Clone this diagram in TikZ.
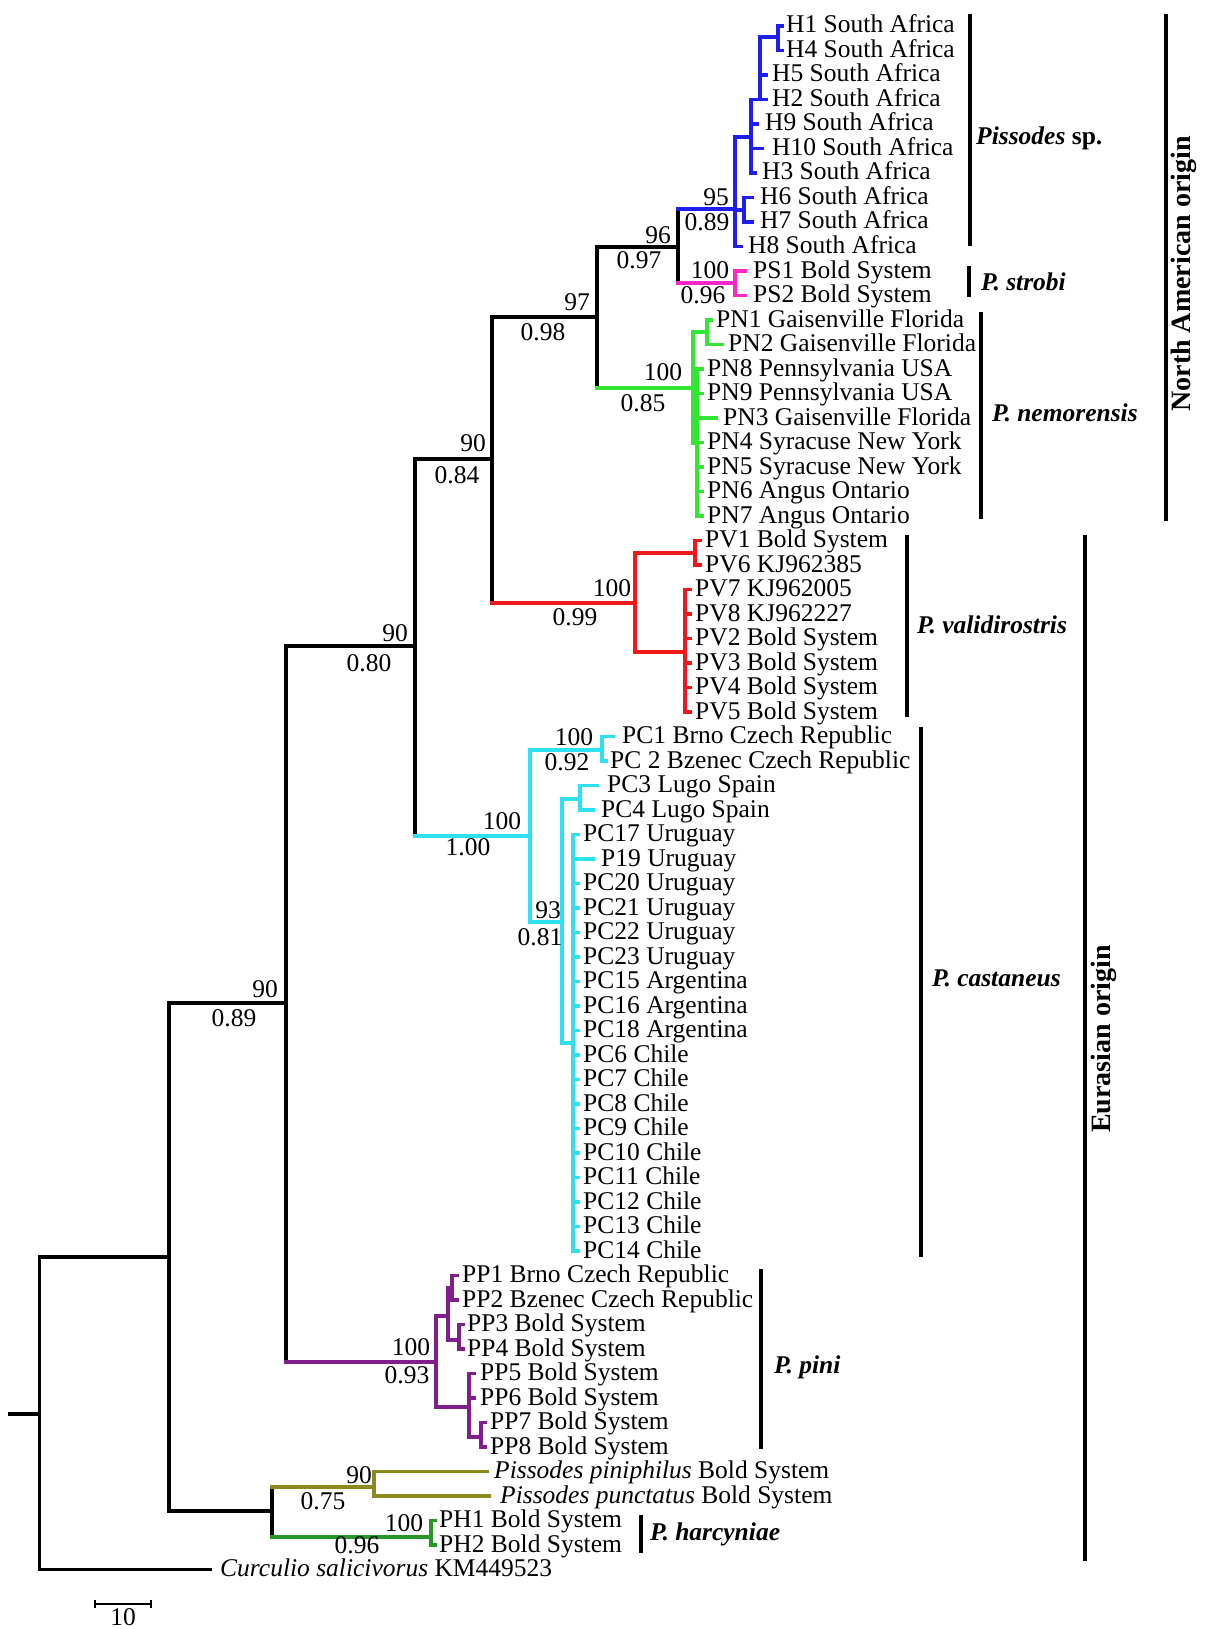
\documentclass[tikz,border=0pt]{standalone}
\usepackage{fontspec}
\setmainfont{Liberation Serif}
\definecolor{cblue}{RGB}{30,30,240}
\definecolor{cmag}{RGB}{250,40,200}
\definecolor{cgreen}{RGB}{50,230,50}
\definecolor{cred}{RGB}{240,25,25}
\definecolor{ccyan}{RGB}{45,225,240}
\definecolor{cpurp}{RGB}{130,30,140}
\definecolor{colive}{RGB}{140,140,30}
\definecolor{cdgreen}{RGB}{40,150,40}
\newcommand\lf[4]{%
  \pgfmathsetmacro\leafy{26+24.5*#1}%
  \coordinate (t#1) at (#2,\leafy);%
  \node[lab,anchor=base west] (L#1) at (#3,\leafy+7) {#4};%
}
\newcommand\hb[3]{\draw[tr,#3] (#1 |- #2) -- (#2);}
\newcommand\vb[4]{\draw[tr,#4] (#1 |- #2) -- (#1 |- #3);}
\begin{document}
\begin{tikzpicture}[x=1pt,y=-1pt,
  tr/.style={line width=3.8pt,line cap=rect},
  lab/.style={inner sep=0pt,font=\fontsize{25.5}{26}\selectfont},
  bs/.style={inner sep=0pt,font=\fontsize{25.5}{26}\selectfont},
  bar/.style={line width=4pt},
  clade/.style={inner sep=0pt,anchor=west,font=\fontsize{25.5}{26}\selectfont\bfseries},
  origin/.style={inner sep=0pt,rotate=90,font=\fontsize{28}{28}\selectfont\bfseries}]
\useasboundingbox (0,0) rectangle (1210,1629);
% ---------- leaves
\lf{0}{782}{786}{H1 South Africa}
\lf{1}{782}{786}{H4 South Africa}
\lf{2}{766}{772}{H5 South Africa}
\lf{3}{766}{772}{H2 South Africa}
\lf{4}{757}{765}{H9 South Africa}
\lf{5}{762}{772}{H10 South Africa}
\lf{6}{755}{762}{H3 South Africa}
\lf{7}{752}{760}{H6 South Africa}
\lf{8}{752}{760}{H7 South Africa}
\lf{9}{741}{748}{H8 South Africa}
\lf{10}{745}{753}{PS1 Bold System}
\lf{11}{745}{753}{PS2 Bold System}
\lf{12}{711}{716}{PN1 Gaisenville Florida}
\lf{13}{722}{728}{PN2 Gaisenville Florida}
\lf{14}{702}{707}{PN8 Pennsylvania USA}
\lf{15}{702}{707}{PN9 Pennsylvania USA}
\lf{16}{716}{723}{PN3 Gaisenville Florida}
\lf{17}{702}{707}{PN4 Syracuse New York}
\lf{18}{702}{707}{PN5 Syracuse New York}
\lf{19}{702}{707}{PN6 Angus Ontario}
\lf{20}{702}{707}{PN7 Angus Ontario}
\lf{21}{700}{705}{PV1 Bold System}
\lf{22}{700}{705}{PV6 KJ962385}
\lf{23}{690}{695}{PV7 KJ962005}
\lf{24}{690}{695}{PV8 KJ962227}
\lf{25}{690}{695}{PV2 Bold System}
\lf{26}{690}{695}{PV3 Bold System}
\lf{27}{690}{695}{PV4 Bold System}
\lf{28}{690}{695}{PV5 Bold System}
\lf{29}{613}{622}{PC1 Brno Czech Republic}
\lf{30}{606}{610}{PC 2 Bzenec Czech Republic}
\lf{31}{597}{607}{PC3 Lugo Spain}
\lf{32}{593}{601}{PC4 Lugo Spain}
\lf{33}{578}{583}{PC17 Uruguay}
\lf{34}{593}{601}{P19 Uruguay}
\lf{35}{578}{583}{PC20 Uruguay}
\lf{36}{578}{583}{PC21 Uruguay}
\lf{37}{578}{583}{PC22 Uruguay}
\lf{38}{578}{583}{PC23 Uruguay}
\lf{39}{578}{583}{PC15 Argentina}
\lf{40}{578}{583}{PC16 Argentina}
\lf{41}{578}{583}{PC18 Argentina}
\lf{42}{578}{583}{PC6 Chile}
\lf{43}{578}{583}{PC7 Chile}
\lf{44}{578}{583}{PC8 Chile}
\lf{45}{578}{583}{PC9 Chile}
\lf{46}{578}{583}{PC10 Chile}
\lf{47}{578}{583}{PC11 Chile}
\lf{48}{578}{583}{PC12 Chile}
\lf{49}{578}{583}{PC13 Chile}
\lf{50}{578}{583}{PC14 Chile}
\lf{51}{457}{462}{PP1 Brno Czech Republic}
\lf{52}{457}{462}{PP2 Bzenec Czech Republic}
\lf{53}{463}{467}{PP3 Bold System}
\lf{54}{463}{467}{PP4 Bold System}
\lf{55}{474}{480}{PP5 Bold System}
\lf{56}{474}{480}{PP6 Bold System}
\lf{57}{485}{490}{PP7 Bold System}
\lf{58}{485}{490}{PP8 Bold System}
\lf{59}{487}{494}{\textit{Pissodes piniphilus} Bold System}
\lf{60}{489}{500}{\textit{Pissodes punctatus} Bold System}
\lf{61}{435}{439}{PH1 Bold System}
\lf{62}{435}{439}{PH2 Bold System}
\lf{63}{210}{220}{\textit{Curculio salicivorus} KM449523}
% ---------- internal nodes
\coordinate (rs) at (10,1414);
\coordinate (root) at (39.5,1414);
\coordinate (n169) at (169,1257);
\coordinate (n286) at (286,1003);
\coordinate (n415) at (415,646);
\coordinate (n492) at (492,459);
\coordinate (n597) at (597,317);
\coordinate (n678) at (678,247);
\coordinate (nA) at (735,209);
\coordinate (nE) at (744,210);
\coordinate (nC) at (751,137);
\coordinate (nD) at (760,99.5);
\coordinate (nF) at (778,37);
\coordinate (nM) at (735,283);
\coordinate (nG) at (693,388);
\coordinate (nG1) at (707,332);
\coordinate (nG2) at (697,443);
\coordinate (nR) at (635,603);
\coordinate (nR1) at (695,553);
\coordinate (nR2) at (685,652);
\coordinate (nCy) at (530,836);
\coordinate (nCy1) at (602,750);
\coordinate (nCy2) at (562,922);
\coordinate (nCy3) at (580,799);
\coordinate (nCy4) at (573,1043);
\coordinate (nP) at (436,1362);
\coordinate (nP1) at (448,1316);
\coordinate (nP2) at (452,1288);
\coordinate (nP3) at (459,1340);
\coordinate (nP4) at (469,1407);
\coordinate (nP5) at (481,1437);
\coordinate (n272) at (272,1511);
\coordinate (nO) at (374,1487);
\coordinate (nH) at (431,1537);
% ---------- backbone
\draw[tr] (rs) -- (root);
\vb{root}{n169}{t63}{black}
\hb{root}{n169}{black} \hb{root}{t63}{black}
\vb{n169}{n286}{n272}{black}
\hb{n169}{n286}{black} \hb{n169}{n272}{black}
\vb{n286}{n415}{nP}{black}
\hb{n286}{n415}{black} \hb{n286}{nP}{cpurp}
\vb{n415}{n492}{nCy}{black}
\hb{n415}{n492}{black} \hb{n415}{nCy}{ccyan}
\vb{n492}{n597}{nR}{black}
\hb{n492}{n597}{black} \hb{n492}{nR}{cred}
\vb{n597}{n678}{nG}{black}
\hb{n597}{n678}{black} \hb{n597}{nG}{cgreen}
\vb{n678}{nA}{nM}{black}
\hb{n678}{nA}{cblue} \hb{n678}{nM}{cmag}
% ---------- blue clade
\vb{nA}{nC}{t9}{cblue}
\hb{nA}{nC}{cblue} \hb{nA}{nE}{cblue} \hb{nA}{t9}{cblue}
\vb{nC}{nD}{t6}{cblue}
\hb{nC}{nD}{cblue} \hb{nC}{t4}{cblue} \hb{nC}{t5}{cblue} \hb{nC}{t6}{cblue}
\vb{nD}{nF}{t3}{cblue}
\hb{nD}{nF}{cblue} \hb{nD}{t2}{cblue} \hb{nD}{t3}{cblue}
\vb{nF}{t0}{t1}{cblue}
\hb{nF}{t0}{cblue} \hb{nF}{t1}{cblue}
\vb{nE}{t7}{t8}{cblue}
\hb{nE}{t7}{cblue} \hb{nE}{t8}{cblue}
% ---------- magenta
\vb{nM}{t10}{t11}{cmag}
\hb{nM}{t10}{cmag} \hb{nM}{t11}{cmag}
% ---------- green
\vb{nG}{nG1}{nG2}{cgreen}
\hb{nG}{nG1}{cgreen} \hb{nG}{nG2}{cgreen}
\vb{nG1}{t12}{t13}{cgreen}
\hb{nG1}{t12}{cgreen} \hb{nG1}{t13}{cgreen}
\vb{nG2}{t14}{t20}{cgreen}
\foreach \i in {14,...,20} {\hb{nG2}{t\i}{cgreen}}
% ---------- red
\vb{nR}{nR1}{nR2}{cred}
\hb{nR}{nR1}{cred} \hb{nR}{nR2}{cred}
\vb{nR1}{t21}{t22}{cred}
\hb{nR1}{t21}{cred} \hb{nR1}{t22}{cred}
\vb{nR2}{t23}{t28}{cred}
\foreach \i in {23,...,28} {\hb{nR2}{t\i}{cred}}
% ---------- cyan
\vb{nCy}{nCy1}{nCy2}{ccyan}
\hb{nCy}{nCy1}{ccyan} \hb{nCy}{nCy2}{ccyan}
\vb{nCy1}{t29}{t30}{ccyan}
\hb{nCy1}{t29}{ccyan} \hb{nCy1}{t30}{ccyan}
\vb{nCy2}{nCy3}{nCy4}{ccyan}
\hb{nCy2}{nCy3}{ccyan} \hb{nCy2}{nCy4}{ccyan}
\vb{nCy3}{t31}{t32}{ccyan}
\hb{nCy3}{t31}{ccyan} \hb{nCy3}{t32}{ccyan}
\vb{nCy4}{t33}{t50}{ccyan}
\foreach \i in {33,...,50} {\hb{nCy4}{t\i}{ccyan}}
% ---------- purple
\vb{nP}{nP1}{nP4}{cpurp}
\hb{nP}{nP1}{cpurp} \hb{nP}{nP4}{cpurp}
\vb{nP1}{nP2}{nP3}{cpurp}
\hb{nP1}{nP2}{cpurp} \hb{nP1}{nP3}{cpurp}
\vb{nP2}{t51}{t52}{cpurp}
\hb{nP2}{t51}{cpurp} \hb{nP2}{t52}{cpurp}
\vb{nP3}{t53}{t54}{cpurp}
\hb{nP3}{t53}{cpurp} \hb{nP3}{t54}{cpurp}
\vb{nP4}{t55}{nP5}{cpurp}
\hb{nP4}{t55}{cpurp} \hb{nP4}{t56}{cpurp} \hb{nP4}{nP5}{cpurp}
\vb{nP5}{t57}{t58}{cpurp}
\hb{nP5}{t57}{cpurp} \hb{nP5}{t58}{cpurp}
% ---------- bottom clade
\vb{n272}{nO}{nH}{black}
\hb{n272}{nO}{colive} \hb{n272}{nH}{cdgreen}
\vb{nO}{t59}{t60}{colive}
\hb{nO}{t59}{colive} \hb{nO}{t60}{colive}
\vb{nH}{t61}{t62}{cdgreen}
\hb{nH}{t61}{cdgreen} \hb{nH}{t62}{cdgreen}
% ---------- support values
\node[bs] (b1) at (716,197) {95};
\node[bs] (b2) at (707,222) {0.89};
\node[bs] (b3) at (658,235) {96};
\node[bs] (b4) at (639,260) {0.97};
\node[bs] (b5) at (710,270) {100};
\node[bs] (b6) at (703,295) {0.96};
\node[bs] (b7) at (577,302) {97};
\node[bs] (b8) at (543,332) {0.98};
\node[bs] (b9) at (663,372) {100};
\node[bs] (b10) at (643,403) {0.85};
\node[bs] (b11) at (612,588) {100};
\node[bs] (b12) at (575,617) {0.99};
\node[bs] (b13) at (473,443) {90};
\node[bs] (b14) at (457,475) {0.84};
\node[bs] (b15) at (395,633) {90};
\node[bs] (b16) at (369,663) {0.80};
\node[bs] (b17) at (265,989) {90};
\node[bs] (b18) at (234,1018) {0.89};
\node[bs] (b19) at (502,821) {100};
\node[bs] (b20) at (468,847) {1.00};
\node[bs] (b21) at (574,737) {100};
\node[bs] (b22) at (567,762) {0.92};
\node[bs] (b23) at (548,910) {93};
\node[bs] (b24) at (540,937) {0.81};
\node[bs] (b25) at (411,1347) {100};
\node[bs] (b26) at (407,1375) {0.93};
\node[bs] (b27) at (359,1475) {90};
\node[bs] (b28) at (323,1501) {0.75};
\node[bs] (b29) at (404,1523) {100};
\node[bs] (b30) at (357,1545) {0.96};
% ---------- clade bars
\draw[bar] (970,14.5) -- (970,246);
\node[clade] (c1) at (976,138) {\textit{Pissodes} sp.};
\draw[bar] (969,266) -- (969,297);
\node[clade] (c2) at (981,282) {\textit{P. strobi}};
\draw[bar] (981,312) -- (981,519);
\node[clade] (c3) at (992,413) {\textit{P. nemorensis}};
\draw[bar] (907,535) -- (907,717);
\node[clade] (c4) at (917,625) {\textit{P. validirostris}};
\draw[bar] (921,727) -- (921,1257);
\node[clade] (c5) at (932,978) {\textit{P. castaneus}};
\draw[bar] (761,1269) -- (761,1449);
\node[clade] (c6) at (774,1367) {\textit{P. pini}};
\draw[bar] (641,1515) -- (641,1553);
\node[clade] (c7) at (650,1534) {\textit{P. harcyniae}};
\draw[bar] (1166,14) -- (1166,521);
\node[origin] (o1) at (1184,274) {North American origin};
\draw[bar] (1085,535) -- (1085,1561);
\node[origin] (o2) at (1104,1039) {Eurasian origin};
% ---------- scale bar
\coordinate (sa) at (95,1604);
\coordinate (sb) at (151,1604);
\draw[line width=1.5pt] (sa) -- (sb);
\draw[line width=1.5pt] ([yshift=4pt]sa) -- ([yshift=-4pt]sa);
\draw[line width=1.5pt] ([yshift=4pt]sb) -- ([yshift=-4pt]sb);
\node[bs] (s10) at (123,1617) {10};
\end{tikzpicture}
\end{document}
